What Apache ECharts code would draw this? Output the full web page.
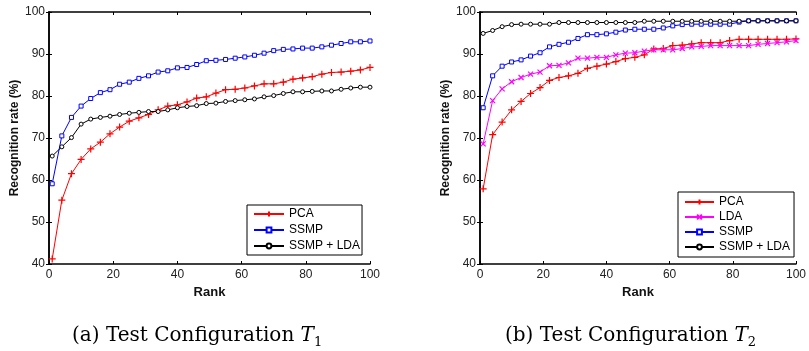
<!DOCTYPE html>
<html>
<head>
<meta charset="utf-8">
<script src="https://cdn.jsdelivr.net/npm/echarts@6/dist/echarts.min.js"></script>
<style>
  html, body { margin: 0; padding: 0; background: #fff; }
  #chart { width: 809px; height: 351px; }
</style>
</head>
<body>
<div id="chart"></div>
<script>
// rank positions where each curve was sampled
const ranks = [1, 4, 7, 10, 13, 16, 19, 22, 25, 28, 31, 34, 37, 40, 43, 46, 49, 52, 55, 58,
  61, 64, 67, 70, 73, 76, 79, 82, 85, 88, 91, 94, 97, 100];

// (a) Test Configuration T1
const pcaT1 = [41.2, 55.2, 61.5, 64.9, 67.4, 69.0, 71.0, 72.6, 74.0, 74.8, 75.6, 76.7, 77.6, 77.9,
  78.6, 79.5, 79.8, 80.7, 81.5, 81.6, 81.9, 82.4, 82.9, 82.9, 83.3, 84.0, 84.3, 84.6, 85.2, 85.6,
  85.7, 85.9, 86.2, 86.8];
const ssmpT1 = [59.1, 70.5, 74.9, 77.6, 79.4, 80.8, 81.5, 82.8, 83.3, 84.2, 84.8, 85.7, 86.0, 86.7,
  86.8, 87.5, 88.4, 88.5, 88.7, 89.0, 89.3, 89.7, 90.2, 90.8, 91.1, 91.2, 91.4, 91.4, 91.7, 92.1,
  92.5, 92.9, 92.9, 93.1];
const ssmpLdaT1 = [65.7, 67.9, 70.1, 73.3, 74.5, 74.9, 75.2, 75.6, 75.9, 76.1, 76.3, 76.3, 76.7, 77.2,
  77.5, 77.7, 78.2, 78.3, 78.7, 78.9, 79.1, 79.3, 79.8, 80.1, 80.6, 81.0, 81.0, 81.1, 81.2, 81.2,
  81.6, 81.9, 82.1, 82.1];

// (b) Test Configuration T2
const pcaT2 = [57.9, 70.8, 73.8, 76.7, 78.7, 80.6, 82.0, 83.7, 84.4, 84.8, 85.4, 86.6, 87.1, 87.6,
  88.2, 88.9, 89.2, 89.8, 91.2, 91.3, 92.0, 92.1, 92.4, 92.7, 92.7, 92.7, 93.2, 93.5, 93.5, 93.5,
  93.5, 93.5, 93.5, 93.6];
const ldaT2 = [68.6, 78.9, 81.7, 83.4, 84.4, 85.2, 85.7, 87.2, 87.3, 87.9, 89.0, 89.0, 89.2, 89.2,
  89.8, 90.2, 90.3, 90.7, 91.0, 91.0, 91.0, 91.3, 91.7, 91.8, 92.0, 92.0, 92.0, 92.0, 92.0, 92.3,
  92.5, 92.7, 92.9, 93.2];
const ssmpT2 = [77.2, 84.8, 87.1, 88.1, 88.6, 89.5, 90.3, 91.7, 92.3, 92.8, 93.7, 94.6, 94.6, 94.8,
  95.2, 95.7, 95.9, 95.9, 95.9, 96.2, 96.7, 97.0, 97.1, 97.1, 97.1, 97.1, 97.1, 97.6, 97.9, 97.9,
  97.9, 97.9, 97.9, 97.9];
const ssmpLdaT2 = [94.9, 95.6, 96.5, 97.0, 97.1, 97.1, 97.1, 97.1, 97.5, 97.5, 97.5, 97.5, 97.5, 97.5,
  97.5, 97.5, 97.5, 97.8, 97.8, 97.8, 97.8, 97.8, 97.8, 97.8, 97.8, 97.8, 97.8, 97.8, 97.9, 97.9,
  97.9, 97.9, 97.9, 97.9];

const xTicks = { min: 0, max: 100, interval: 20 };
const yTicks = { min: 40, max: 100, interval: 10 };

const FONT = "Liberation Sans";
const SERIF = "DejaVu Serif";
const PLUS = "path://M5,0L5,10M0,5L10,5";
const CROSS = "path://M0,0L10,10M10,0L0,10";

const pairs = (vals) => vals.map((v, i) => [ranks[i], v]);

const makeSeries = (name, vals, color, symbol, size, xi, yi, strokeOnly) => ({
  name: name,
  type: "line",
  xAxisIndex: xi,
  yAxisIndex: yi,
  data: pairs(vals),
  symbol: symbol,
  symbolSize: size,
  showAllSymbol: true,
  lineStyle: { color: color, width: 1 },
  itemStyle: strokeOnly
    ? { color: color, borderColor: color, borderWidth: 1.2 }
    : { color: "#fff", borderColor: color, borderWidth: 1 },
  emphasis: { disabled: true },
  animation: false,
});

const bottomX = (gi) => ({
  type: "value",
  gridIndex: gi,
  position: "bottom",
  ...xTicks,
  name: "Rank",
  nameLocation: "middle",
  nameGap: 17,
  nameTextStyle: { fontFamily: FONT, fontSize: 13, fontWeight: "bold", color: "#111" },
  axisLine: { lineStyle: { color: "#000", width: 1.5 } },
  axisTick: { inside: true, length: 3, lineStyle: { color: "#000" } },
  axisLabel: { margin: 5, fontFamily: FONT, fontSize: 12, color: "#222" },
  splitLine: { show: false },
});

const topX = (gi) => ({
  type: "value",
  gridIndex: gi,
  position: "top",
  ...xTicks,
  axisLine: { lineStyle: { color: "#000", width: 1.5 } },
  axisTick: { inside: true, length: 3, lineStyle: { color: "#000" } },
  axisLabel: { show: false },
  splitLine: { show: false },
});

const leftY = (gi) => ({
  type: "value",
  gridIndex: gi,
  position: "left",
  ...yTicks,
  name: "Recognition rate (%)",
  nameLocation: "middle",
  nameGap: 28,
  nameTextStyle: { fontFamily: FONT, fontSize: 12, fontWeight: "bold", color: "#111" },
  axisLine: { lineStyle: { color: "#000", width: 1.5 } },
  axisTick: { inside: true, length: 3, lineStyle: { color: "#000" } },
  axisLabel: { margin: 4, fontFamily: FONT, fontSize: 12, color: "#222" },
  splitLine: { show: false },
});

const rightY = (gi) => ({
  type: "value",
  gridIndex: gi,
  position: "right",
  ...yTicks,
  axisLine: { lineStyle: { color: "#000", width: 1.5 } },
  axisTick: { inside: true, length: 3, lineStyle: { color: "#000" } },
  axisLabel: { show: false },
  splitLine: { show: false },
});

const legendBase = {
  orient: "vertical",
  backgroundColor: "#fff",
  borderColor: "#000",
  borderWidth: 1,
  itemHeight: 6,
  textStyle: { fontFamily: FONT, fontSize: 12, color: "#000", lineHeight: 12 },
  selectedMode: false,
};

// caption with italic T and a lowered subscript
const caption = (label, sub) => ({
  text: "{n|" + label + " Test Configuration }{i|T}{s|" + sub + "}",
  rich: {
    n: { fontFamily: SERIF, fontSize: 20, lineHeight: 22, fill: "#000", verticalAlign: "top" },
    i: { fontFamily: SERIF, fontStyle: "italic", fontSize: 20, lineHeight: 22, fill: "#000", verticalAlign: "top" },
    s: { fontFamily: SERIF, fontSize: 13, lineHeight: 14, fill: "#000", verticalAlign: "top", padding: [10, 0, 0, 0] },
  },
});

const chart = echarts.init(document.getElementById("chart"), null, { renderer: "canvas" });

chart.setOption({
  backgroundColor: "#fff",
  animation: false,
  grid: [
    { left: 49, top: 12, width: 321, height: 252 },
    { left: 480, top: 12, width: 320, height: 252 },
  ],
  xAxis: [bottomX(0), topX(0), bottomX(1), topX(1)],
  yAxis: [leftY(0), rightY(0), leftY(1), rightY(1)],
  legend: [
    {
      ...legendBase,
      left: 247,
      top: 205,
      padding: [3, 2, 3, 6],
      itemGap: 4,
      itemWidth: 30,
      data: ["PCA", "SSMP", "SSMP + LDA"],
    },
    {
      ...legendBase,
      left: 678,
      top: 192,
      padding: [4, 4, 4, 6],
      itemGap: 3,
      itemWidth: 29,
      data: ["PCA ", "LDA", "SSMP ", "SSMP + LDA "],
      formatter: (n) => n.trim(),
    },
  ],
  graphic: [
    { type: "text", left: 72, top: 326, style: caption("(a)", "1") },
    { type: "text", left: 505, top: 326, style: caption("(b)", "2") },
  ],
  series: [
    makeSeries("PCA", pcaT1, "#ff0000", PLUS, 7, 0, 0, true),
    makeSeries("SSMP", ssmpT1, "#0000ff", "rect", 4, 0, 0, false),
    makeSeries("SSMP + LDA", ssmpLdaT1, "#000000", "circle", 4, 0, 0, false),
    makeSeries("PCA ", pcaT2, "#ff0000", PLUS, 7, 2, 2, true),
    makeSeries("LDA", ldaT2, "#ff00ff", CROSS, 5, 2, 2, true),
    makeSeries("SSMP ", ssmpT2, "#0000ff", "rect", 4, 2, 2, false),
    makeSeries("SSMP + LDA ", ssmpLdaT2, "#000000", "circle", 4, 2, 2, false),
  ],
});

window.addEventListener("resize", () => chart.resize());
</script>
</body>
</html>
